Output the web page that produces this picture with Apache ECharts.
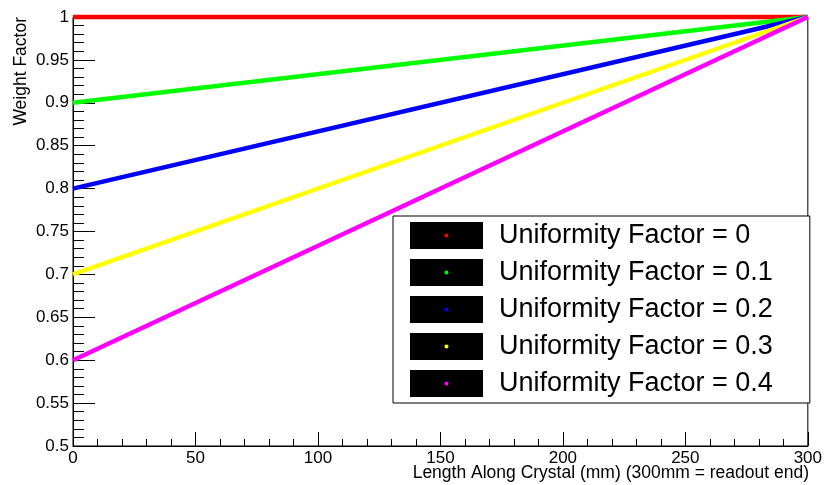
<!DOCTYPE html>
<html>
<head>
<meta charset="utf-8">
<script src="https://cdn.jsdelivr.net/npm/echarts@6/dist/echarts.min.js"></script>
<style>
  html, body { margin: 0; padding: 0; background: #fff; }
  #chart { width: 825px; height: 485px; }
</style>
</head>
<body>
<div id="chart"></div>
<script>
// Position along the crystal (mm); 300 mm is the readout end
const lengthMm = [0, 300];

// Weight factor at each end of the crystal, one list per uniformity factor
const weightUF0  = [1.0, 1.0];
const weightUF01 = [0.9, 1.0];
const weightUF02 = [0.8, 1.0];
const weightUF03 = [0.7, 1.0];
const weightUF04 = [0.6, 1.0];

const seriesNames = [
  'Uniformity Factor = 0',
  'Uniformity Factor = 0.1',
  'Uniformity Factor = 0.2',
  'Uniformity Factor = 0.3',
  'Uniformity Factor = 0.4'
];
const seriesValues = [weightUF0, weightUF01, weightUF02, weightUF03, weightUF04];
const seriesColors = ['#ff0000', '#00ff00', '#0000ff', '#ffff00', '#ff00ff'];

const xTicks = [0, 50, 100, 150, 200, 250, 300];
const yTicks = [0.5, 0.55, 0.6, 0.65, 0.7, 0.75, 0.8, 0.85, 0.9, 0.95, 1];

const FONT = '"Liberation Sans", Arial, Helvetica, sans-serif';

// Legend box geometry
const LEG = { left: 393, top: 216, padTop: 6, padLeft: 17, iconW: 73, iconH: 27, gap: 10 };

const chart = echarts.init(document.getElementById('chart'), null, { renderer: 'canvas' });

const series = seriesNames.map((name, i) => ({
  name: name,
  type: 'line',
  data: lengthMm.map((x, j) => [x, seriesValues[i][j]]),
  showSymbol: false,
  symbol: 'none',
  clip: false,
  color: seriesColors[i],
  lineStyle: { width: 4.5, color: seriesColors[i] },
  z: 2 + i
}));

// Coloured marker dots drawn in the middle of each black legend swatch
const legendDots = seriesColors.map((c, i) => ({
  type: 'circle',
  shape: {
    cx: LEG.left + LEG.padLeft + LEG.iconW / 2,
    cy: LEG.top + LEG.padTop + i * (LEG.iconH + LEG.gap) + LEG.iconH / 2,
    r: 2
  },
  style: { fill: c },
  z: 200
}));

chart.setOption({
  animation: false,
  backgroundColor: '#fff',
  grid: {
    left: 73, top: 17, width: 737, height: 429,
    show: true, borderColor: '#000', borderWidth: 1, backgroundColor: 'transparent'
  },
  xAxis: {
    type: 'value',
    min: xTicks[0], max: xTicks[xTicks.length - 1], interval: 50,
    axisLine: { show: true, onZero: false, lineStyle: { color: '#000', width: 1 } },
    axisTick: { show: true, inside: true, length: 14, lineStyle: { color: '#000' } },
    minorTick: { show: true, splitNumber: 5, length: 7, lineStyle: { color: '#000' } },
    splitLine: { show: false },
    axisLabel: { color: '#000', fontSize: 17, fontFamily: FONT, margin: 4 }
  },
  yAxis: {
    type: 'value',
    min: yTicks[0], max: yTicks[yTicks.length - 1], interval: 0.05,
    axisLine: { show: true, onZero: false, lineStyle: { color: '#000', width: 1 } },
    axisTick: { show: true, inside: true, length: 22, lineStyle: { color: '#000' } },
    minorTick: { show: true, splitNumber: 5, length: 11, lineStyle: { color: '#000' } },
    splitLine: { show: false },
    axisLabel: { color: '#000', fontSize: 17, fontFamily: FONT, margin: 4 }
  },
  legend: {
    orient: 'vertical',
    left: LEG.left, top: LEG.top,
    padding: [LEG.padTop, 37, 6, LEG.padLeft],
    itemWidth: LEG.iconW, itemHeight: LEG.iconH, itemGap: LEG.gap,
    icon: 'rect',
    backgroundColor: '#fff',
    borderColor: '#000', borderWidth: 1,
    selectedMode: false,
    data: seriesNames.map(n => ({ name: n, itemStyle: { color: '#000' } })),
    textStyle: {
      color: '#000', fontSize: 27, fontFamily: FONT,
      padding: [0, 0, 0, 11]
    },
    z: 100
  },
  graphic: [
    {
      type: 'text',
      x: 21, y: 17,
      rotation: Math.PI / 2,
      style: {
        text: 'Weight Factor', fill: '#000', font: '17.5px ' + FONT,
        align: 'right', verticalAlign: 'middle'
      }
    },
    {
      type: 'text',
      x: 809, y: 473,
      style: {
        text: 'Length Along Crystal (mm) (300mm = readout end)', fill: '#000', font: '17.5px ' + FONT,
        align: 'right', verticalAlign: 'middle'
      }
    }
  ].concat(legendDots),
  series: series
});
</script>
</body>
</html>
